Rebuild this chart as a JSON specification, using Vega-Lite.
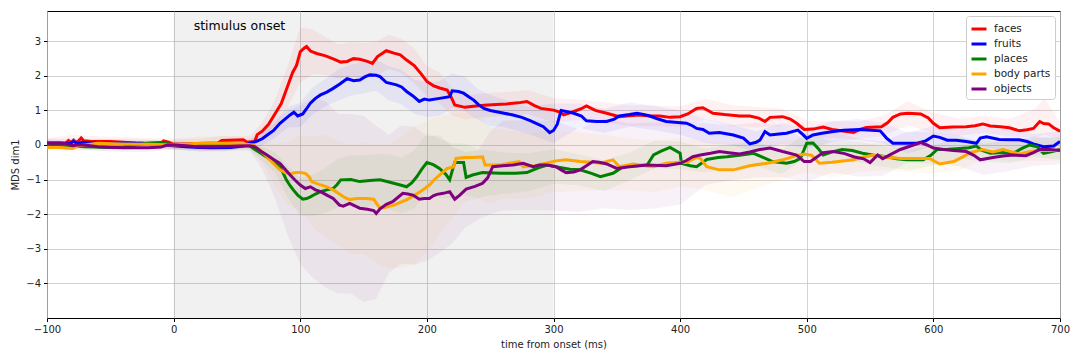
{
  "$schema": "https://vega.github.io/schema/vega-lite/v6.json",
  "width": 1013,
  "height": 307,
  "autosize": "none",
  "padding": {"left": 47, "top": 11, "right": 20, "bottom": 42},
  "datasets": {
    "lines": [
      {"s":"faces","t":-100,"v":0.05},{"s":"faces","t":-90,"v":0.05},{"s":"faces","t":-85,"v":0.06},{"s":"faces","t":-83,"v":0.13},{"s":"faces","t":-81,"v":0.07},{"s":"faces","t":-79,"v":0.14},{"s":"faces","t":-77,"v":0.07},{"s":"faces","t":-75,"v":0.12},{"s":"faces","t":-73,"v":0.2},{"s":"faces","t":-71,"v":0.12},{"s":"faces","t":-65,"v":0.1},{"s":"faces","t":-50,"v":0.1},{"s":"faces","t":-40,"v":0.08},{"s":"faces","t":-30,"v":0.06},{"s":"faces","t":-20,"v":0.05},{"s":"faces","t":-10,"v":0.05},{"s":"faces","t":-8,"v":0.12},{"s":"faces","t":-4,"v":0.08},{"s":"faces","t":0,"v":0.02},{"s":"faces","t":10,"v":0.03},{"s":"faces","t":20,"v":0.04},{"s":"faces","t":35,"v":0.06},{"s":"faces","t":38,"v":0.13},{"s":"faces","t":55,"v":0.15},{"s":"faces","t":58,"v":0.08},{"s":"faces","t":64,"v":0.1},{"s":"faces","t":66,"v":0.3},{"s":"faces","t":70,"v":0.4},{"s":"faces","t":75,"v":0.6},{"s":"faces","t":80,"v":0.9},{"s":"faces","t":85,"v":1.2},{"s":"faces","t":88,"v":1.5},{"s":"faces","t":91,"v":1.8},{"s":"faces","t":94,"v":2.1},{"s":"faces","t":97,"v":2.3},{"s":"faces","t":100,"v":2.7},{"s":"faces","t":103,"v":2.8},{"s":"faces","t":105,"v":2.85},{"s":"faces","t":108,"v":2.72},{"s":"faces","t":113,"v":2.65},{"s":"faces","t":120,"v":2.58},{"s":"faces","t":127,"v":2.48},{"s":"faces","t":132,"v":2.4},{"s":"faces","t":137,"v":2.42},{"s":"faces","t":142,"v":2.5},{"s":"faces","t":147,"v":2.48},{"s":"faces","t":153,"v":2.42},{"s":"faces","t":157,"v":2.36},{"s":"faces","t":161,"v":2.56},{"s":"faces","t":168,"v":2.73},{"s":"faces","t":174,"v":2.66},{"s":"faces","t":179,"v":2.61},{"s":"faces","t":184,"v":2.46},{"s":"faces","t":190,"v":2.3},{"s":"faces","t":195,"v":2.08},{"s":"faces","t":200,"v":1.84},{"s":"faces","t":205,"v":1.72},{"s":"faces","t":210,"v":1.65},{"s":"faces","t":216,"v":1.59},{"s":"faces","t":219,"v":1.4},{"s":"faces","t":222,"v":1.16},{"s":"faces","t":230,"v":1.09},{"s":"faces","t":237,"v":1.12},{"s":"faces","t":245,"v":1.15},{"s":"faces","t":255,"v":1.17},{"s":"faces","t":263,"v":1.19},{"s":"faces","t":272,"v":1.22},{"s":"faces","t":279,"v":1.26},{"s":"faces","t":285,"v":1.14},{"s":"faces","t":290,"v":1.06},{"s":"faces","t":300,"v":1.01},{"s":"faces","t":305,"v":0.95},{"s":"faces","t":308,"v":0.87},{"s":"faces","t":316,"v":0.97},{"s":"faces","t":322,"v":1.05},{"s":"faces","t":326,"v":1.13},{"s":"faces","t":333,"v":1.0},{"s":"faces","t":342,"v":0.92},{"s":"faces","t":352,"v":0.82},{"s":"faces","t":360,"v":0.85},{"s":"faces","t":368,"v":0.87},{"s":"faces","t":376,"v":0.84},{"s":"faces","t":384,"v":0.84},{"s":"faces","t":392,"v":0.8},{"s":"faces","t":400,"v":0.82},{"s":"faces","t":406,"v":0.9},{"s":"faces","t":413,"v":1.06},{"s":"faces","t":418,"v":1.08},{"s":"faces","t":422,"v":1.0},{"s":"faces","t":426,"v":0.92},{"s":"faces","t":435,"v":0.88},{"s":"faces","t":447,"v":0.84},{"s":"faces","t":455,"v":0.84},{"s":"faces","t":462,"v":0.78},{"s":"faces","t":467,"v":0.68},{"s":"faces","t":471,"v":0.8},{"s":"faces","t":481,"v":0.82},{"s":"faces","t":487,"v":0.75},{"s":"faces","t":492,"v":0.63},{"s":"faces","t":498,"v":0.45},{"s":"faces","t":505,"v":0.46},{"s":"faces","t":513,"v":0.52},{"s":"faces","t":520,"v":0.45},{"s":"faces","t":527,"v":0.41},{"s":"faces","t":537,"v":0.36},{"s":"faces","t":542,"v":0.45},{"s":"faces","t":547,"v":0.51},{"s":"faces","t":559,"v":0.53},{"s":"faces","t":564,"v":0.65},{"s":"faces","t":568,"v":0.8},{"s":"faces","t":574,"v":0.9},{"s":"faces","t":580,"v":0.92},{"s":"faces","t":590,"v":0.9},{"s":"faces","t":596,"v":0.78},{"s":"faces","t":600,"v":0.63},{"s":"faces","t":605,"v":0.5},{"s":"faces","t":615,"v":0.52},{"s":"faces","t":626,"v":0.53},{"s":"faces","t":633,"v":0.56},{"s":"faces","t":639,"v":0.61},{"s":"faces","t":645,"v":0.55},{"s":"faces","t":653,"v":0.53},{"s":"faces","t":660,"v":0.5},{"s":"faces","t":668,"v":0.41},{"s":"faces","t":674,"v":0.44},{"s":"faces","t":679,"v":0.48},{"s":"faces","t":684,"v":0.68},{"s":"faces","t":687,"v":0.62},{"s":"faces","t":691,"v":0.61},{"s":"faces","t":695,"v":0.5},{"s":"faces","t":700,"v":0.4},

      {"s":"fruits","t":-100,"v":0.06},{"s":"fruits","t":-90,"v":0.06},{"s":"fruits","t":-82,"v":0.04},{"s":"fruits","t":-79,"v":0.1},{"s":"fruits","t":-76,"v":0.04},{"s":"fruits","t":-72,"v":0.08},{"s":"fruits","t":-60,"v":0.05},{"s":"fruits","t":-40,"v":0.05},{"s":"fruits","t":-25,"v":0.05},{"s":"fruits","t":-10,"v":0.0},{"s":"fruits","t":0,"v":-0.02},{"s":"fruits","t":10,"v":-0.05},{"s":"fruits","t":20,"v":-0.07},{"s":"fruits","t":30,"v":-0.08},{"s":"fruits","t":45,"v":-0.07},{"s":"fruits","t":55,"v":-0.03},{"s":"fruits","t":60,"v":0.05},{"s":"fruits","t":65,"v":0.1},{"s":"fruits","t":70,"v":0.18},{"s":"fruits","t":74,"v":0.29},{"s":"fruits","t":79,"v":0.42},{"s":"fruits","t":84,"v":0.63},{"s":"fruits","t":88,"v":0.75},{"s":"fruits","t":92,"v":0.87},{"s":"fruits","t":95,"v":0.95},{"s":"fruits","t":98,"v":0.84},{"s":"fruits","t":102,"v":0.9},{"s":"fruits","t":105,"v":1.05},{"s":"fruits","t":108,"v":1.21},{"s":"fruits","t":112,"v":1.35},{"s":"fruits","t":116,"v":1.45},{"s":"fruits","t":121,"v":1.53},{"s":"fruits","t":126,"v":1.64},{"s":"fruits","t":131,"v":1.76},{"s":"fruits","t":137,"v":1.92},{"s":"fruits","t":142,"v":1.86},{"s":"fruits","t":147,"v":1.88},{"s":"fruits","t":151,"v":1.97},{"s":"fruits","t":155,"v":2.03},{"s":"fruits","t":160,"v":2.02},{"s":"fruits","t":163,"v":1.98},{"s":"fruits","t":168,"v":1.81},{"s":"fruits","t":176,"v":1.74},{"s":"fruits","t":180,"v":1.68},{"s":"fruits","t":184,"v":1.55},{"s":"fruits","t":189,"v":1.42},{"s":"fruits","t":194,"v":1.26},{"s":"fruits","t":198,"v":1.33},{"s":"fruits","t":202,"v":1.3},{"s":"fruits","t":210,"v":1.35},{"s":"fruits","t":218,"v":1.4},{"s":"fruits","t":220,"v":1.57},{"s":"fruits","t":225,"v":1.55},{"s":"fruits","t":229,"v":1.5},{"s":"fruits","t":233,"v":1.4},{"s":"fruits","t":237,"v":1.3},{"s":"fruits","t":241,"v":1.16},{"s":"fruits","t":245,"v":1.06},{"s":"fruits","t":250,"v":1.0},{"s":"fruits","t":258,"v":0.94},{"s":"fruits","t":268,"v":0.87},{"s":"fruits","t":275,"v":0.8},{"s":"fruits","t":282,"v":0.7},{"s":"fruits","t":288,"v":0.6},{"s":"fruits","t":292,"v":0.53},{"s":"fruits","t":297,"v":0.36},{"s":"fruits","t":300,"v":0.42},{"s":"fruits","t":303,"v":0.6},{"s":"fruits","t":306,"v":1.0},{"s":"fruits","t":310,"v":0.97},{"s":"fruits","t":316,"v":0.92},{"s":"fruits","t":322,"v":0.84},{"s":"fruits","t":326,"v":0.7},{"s":"fruits","t":334,"v":0.68},{"s":"fruits","t":342,"v":0.68},{"s":"fruits","t":348,"v":0.75},{"s":"fruits","t":352,"v":0.84},{"s":"fruits","t":360,"v":0.88},{"s":"fruits","t":366,"v":0.92},{"s":"fruits","t":372,"v":0.88},{"s":"fruits","t":376,"v":0.84},{"s":"fruits","t":382,"v":0.76},{"s":"fruits","t":389,"v":0.68},{"s":"fruits","t":396,"v":0.66},{"s":"fruits","t":405,"v":0.63},{"s":"fruits","t":410,"v":0.55},{"s":"fruits","t":413,"v":0.48},{"s":"fruits","t":418,"v":0.45},{"s":"fruits","t":423,"v":0.34},{"s":"fruits","t":431,"v":0.36},{"s":"fruits","t":442,"v":0.29},{"s":"fruits","t":450,"v":0.2},{"s":"fruits","t":455,"v":0.03},{"s":"fruits","t":460,"v":0.08},{"s":"fruits","t":463,"v":0.14},{"s":"fruits","t":467,"v":0.39},{"s":"fruits","t":471,"v":0.29},{"s":"fruits","t":478,"v":0.32},{"s":"fruits","t":484,"v":0.34},{"s":"fruits","t":493,"v":0.43},{"s":"fruits","t":497,"v":0.3},{"s":"fruits","t":500,"v":0.19},{"s":"fruits","t":505,"v":0.29},{"s":"fruits","t":512,"v":0.34},{"s":"fruits","t":521,"v":0.39},{"s":"fruits","t":529,"v":0.43},{"s":"fruits","t":542,"v":0.45},{"s":"fruits","t":558,"v":0.41},{"s":"fruits","t":563,"v":0.2},{"s":"fruits","t":568,"v":0.05},{"s":"fruits","t":578,"v":0.05},{"s":"fruits","t":587,"v":0.05},{"s":"fruits","t":594,"v":0.12},{"s":"fruits","t":600,"v":0.26},{"s":"fruits","t":605,"v":0.22},{"s":"fruits","t":611,"v":0.14},{"s":"fruits","t":618,"v":0.14},{"s":"fruits","t":626,"v":0.1},{"s":"fruits","t":634,"v":0.05},{"s":"fruits","t":637,"v":0.2},{"s":"fruits","t":642,"v":0.24},{"s":"fruits","t":652,"v":0.16},{"s":"fruits","t":660,"v":0.15},{"s":"fruits","t":668,"v":0.15},{"s":"fruits","t":674,"v":0.1},{"s":"fruits","t":679,"v":0.03},{"s":"fruits","t":687,"v":-0.05},{"s":"fruits","t":695,"v":-0.03},{"s":"fruits","t":700,"v":0.1},

      {"s":"places","t":-100,"v":0.02},{"s":"places","t":-90,"v":0.0},{"s":"places","t":-80,"v":-0.02},{"s":"places","t":-70,"v":-0.05},{"s":"places","t":-50,"v":-0.07},{"s":"places","t":-40,"v":-0.06},{"s":"places","t":-30,"v":0.0},{"s":"places","t":-20,"v":0.05},{"s":"places","t":-10,"v":0.07},{"s":"places","t":0,"v":0.0},{"s":"places","t":20,"v":0.0},{"s":"places","t":40,"v":0.0},{"s":"places","t":60,"v":-0.02},{"s":"places","t":63,"v":-0.1},{"s":"places","t":68,"v":-0.22},{"s":"places","t":73,"v":-0.34},{"s":"places","t":78,"v":-0.45},{"s":"places","t":84,"v":-0.63},{"s":"places","t":87,"v":-0.85},{"s":"places","t":89,"v":-1.01},{"s":"places","t":92,"v":-1.18},{"s":"places","t":94.5,"v":-1.3},{"s":"places","t":98,"v":-1.45},{"s":"places","t":102,"v":-1.57},{"s":"places","t":105,"v":-1.55},{"s":"places","t":108,"v":-1.5},{"s":"places","t":112,"v":-1.42},{"s":"places","t":116,"v":-1.35},{"s":"places","t":121,"v":-1.3},{"s":"places","t":126,"v":-1.26},{"s":"places","t":129,"v":-1.15},{"s":"places","t":132,"v":-1.01},{"s":"places","t":140,"v":-1.0},{"s":"places","t":147,"v":-1.06},{"s":"places","t":155,"v":-1.03},{"s":"places","t":163,"v":-1.01},{"s":"places","t":170,"v":-1.07},{"s":"places","t":179,"v":-1.16},{"s":"places","t":184,"v":-1.21},{"s":"places","t":188,"v":-1.1},{"s":"places","t":192,"v":-0.92},{"s":"places","t":196,"v":-0.7},{"s":"places","t":200,"v":-0.51},{"s":"places","t":205,"v":-0.57},{"s":"places","t":210,"v":-0.68},{"s":"places","t":215,"v":-0.85},{"s":"places","t":218,"v":-1.01},{"s":"places","t":220,"v":-0.75},{"s":"places","t":222,"v":-0.51},{"s":"places","t":229,"v":-0.51},{"s":"places","t":231,"v":-0.94},{"s":"places","t":236,"v":-0.87},{"s":"places","t":244,"v":-0.8},{"s":"places","t":258,"v":-0.82},{"s":"places","t":270,"v":-0.82},{"s":"places","t":279,"v":-0.8},{"s":"places","t":288,"v":-0.66},{"s":"places","t":295,"v":-0.58},{"s":"places","t":305,"v":-0.65},{"s":"places","t":313,"v":-0.7},{"s":"places","t":321,"v":-0.72},{"s":"places","t":330,"v":-0.82},{"s":"places","t":337,"v":-0.92},{"s":"places","t":347,"v":-0.82},{"s":"places","t":355,"v":-0.63},{"s":"places","t":365,"v":-0.6},{"s":"places","t":374,"v":-0.58},{"s":"places","t":379,"v":-0.29},{"s":"places","t":385,"v":-0.18},{"s":"places","t":392,"v":-0.07},{"s":"places","t":400,"v":-0.24},{"s":"places","t":401,"v":-0.53},{"s":"places","t":408,"v":-0.6},{"s":"places","t":413,"v":-0.63},{"s":"places","t":418,"v":-0.5},{"s":"places","t":421,"v":-0.42},{"s":"places","t":430,"v":-0.36},{"s":"places","t":437,"v":-0.34},{"s":"places","t":447,"v":-0.3},{"s":"places","t":458,"v":-0.24},{"s":"places","t":465,"v":-0.35},{"s":"places","t":473,"v":-0.48},{"s":"places","t":484,"v":-0.53},{"s":"places","t":490,"v":-0.48},{"s":"places","t":495,"v":-0.39},{"s":"places","t":500,"v":0.05},{"s":"places","t":505,"v":0.06},{"s":"places","t":509,"v":-0.1},{"s":"places","t":513,"v":-0.29},{"s":"places","t":520,"v":-0.2},{"s":"places","t":528,"v":-0.13},{"s":"places","t":536,"v":-0.16},{"s":"places","t":544,"v":-0.24},{"s":"places","t":553,"v":-0.3},{"s":"places","t":563,"v":-0.34},{"s":"places","t":571,"v":-0.4},{"s":"places","t":579,"v":-0.43},{"s":"places","t":592,"v":-0.43},{"s":"places","t":598,"v":-0.3},{"s":"places","t":603,"v":-0.13},{"s":"places","t":612,"v":-0.12},{"s":"places","t":621,"v":-0.1},{"s":"places","t":628,"v":-0.08},{"s":"places","t":634,"v":-0.03},{"s":"places","t":638,"v":-0.15},{"s":"places","t":645,"v":-0.24},{"s":"places","t":655,"v":-0.22},{"s":"places","t":663,"v":-0.24},{"s":"places","t":670,"v":-0.1},{"s":"places","t":676,"v":0.0},{"s":"places","t":682,"v":-0.05},{"s":"places","t":687,"v":-0.24},{"s":"places","t":693,"v":-0.2},{"s":"places","t":700,"v":-0.13},

      {"s":"body parts","t":-100,"v":-0.07},{"s":"body parts","t":-90,"v":-0.07},{"s":"body parts","t":-80,"v":-0.1},{"s":"body parts","t":-75,"v":-0.02},{"s":"body parts","t":-60,"v":0.05},{"s":"body parts","t":-40,"v":0.03},{"s":"body parts","t":-20,"v":0.02},{"s":"body parts","t":0,"v":0.0},{"s":"body parts","t":20,"v":0.05},{"s":"body parts","t":40,"v":0.05},{"s":"body parts","t":55,"v":0.03},{"s":"body parts","t":63,"v":0.0},{"s":"body parts","t":68,"v":-0.14},{"s":"body parts","t":72,"v":-0.28},{"s":"body parts","t":76,"v":-0.43},{"s":"body parts","t":80,"v":-0.58},{"s":"body parts","t":84,"v":-0.72},{"s":"body parts","t":88,"v":-0.8},{"s":"body parts","t":92,"v":-0.84},{"s":"body parts","t":96,"v":-0.8},{"s":"body parts","t":100,"v":-0.8},{"s":"body parts","t":104,"v":-0.82},{"s":"body parts","t":107,"v":-0.92},{"s":"body parts","t":109,"v":-1.06},{"s":"body parts","t":115,"v":-1.14},{"s":"body parts","t":121,"v":-1.21},{"s":"body parts","t":126,"v":-1.3},{"s":"body parts","t":131,"v":-1.42},{"s":"body parts","t":135,"v":-1.52},{"s":"body parts","t":139,"v":-1.58},{"s":"body parts","t":145,"v":-1.55},{"s":"body parts","t":152,"v":-1.55},{"s":"body parts","t":158,"v":-1.57},{"s":"body parts","t":163,"v":-1.84},{"s":"body parts","t":168,"v":-1.8},{"s":"body parts","t":174,"v":-1.74},{"s":"body parts","t":179,"v":-1.66},{"s":"body parts","t":184,"v":-1.59},{"s":"body parts","t":190,"v":-1.46},{"s":"body parts","t":195,"v":-1.35},{"s":"body parts","t":202,"v":-1.16},{"s":"body parts","t":206,"v":-1.0},{"s":"body parts","t":210,"v":-0.87},{"s":"body parts","t":216,"v":-0.68},{"s":"body parts","t":221,"v":-0.64},{"s":"body parts","t":223,"v":-0.39},{"s":"body parts","t":230,"v":-0.36},{"s":"body parts","t":237,"v":-0.36},{"s":"body parts","t":244,"v":-0.34},{"s":"body parts","t":246,"v":-0.58},{"s":"body parts","t":258,"v":-0.58},{"s":"body parts","t":266,"v":-0.52},{"s":"body parts","t":273,"v":-0.48},{"s":"body parts","t":276,"v":-0.63},{"s":"body parts","t":285,"v":-0.6},{"s":"body parts","t":294,"v":-0.53},{"s":"body parts","t":302,"v":-0.46},{"s":"body parts","t":310,"v":-0.43},{"s":"body parts","t":321,"v":-0.48},{"s":"body parts","t":330,"v":-0.5},{"s":"body parts","t":337,"v":-0.53},{"s":"body parts","t":347,"v":-0.43},{"s":"body parts","t":352,"v":-0.63},{"s":"body parts","t":363,"v":-0.55},{"s":"body parts","t":372,"v":-0.6},{"s":"body parts","t":379,"v":-0.63},{"s":"body parts","t":389,"v":-0.53},{"s":"body parts","t":400,"v":-0.5},{"s":"body parts","t":405,"v":-0.51},{"s":"body parts","t":413,"v":-0.36},{"s":"body parts","t":416,"v":-0.39},{"s":"body parts","t":421,"v":-0.63},{"s":"body parts","t":431,"v":-0.72},{"s":"body parts","t":442,"v":-0.72},{"s":"body parts","t":455,"v":-0.6},{"s":"body parts","t":470,"v":-0.52},{"s":"body parts","t":481,"v":-0.43},{"s":"body parts","t":490,"v":-0.33},{"s":"body parts","t":498,"v":-0.26},{"s":"body parts","t":504,"v":-0.3},{"s":"body parts","t":510,"v":-0.53},{"s":"body parts","t":520,"v":-0.5},{"s":"body parts","t":537,"v":-0.43},{"s":"body parts","t":545,"v":-0.35},{"s":"body parts","t":553,"v":-0.29},{"s":"body parts","t":562,"v":-0.35},{"s":"body parts","t":574,"v":-0.39},{"s":"body parts","t":597,"v":-0.39},{"s":"body parts","t":605,"v":-0.55},{"s":"body parts","t":616,"v":-0.48},{"s":"body parts","t":623,"v":-0.35},{"s":"body parts","t":629,"v":-0.22},{"s":"body parts","t":639,"v":-0.13},{"s":"body parts","t":647,"v":-0.2},{"s":"body parts","t":655,"v":-0.13},{"s":"body parts","t":662,"v":-0.2},{"s":"body parts","t":668,"v":-0.26},{"s":"body parts","t":675,"v":-0.2},{"s":"body parts","t":682,"v":-0.16},{"s":"body parts","t":700,"v":-0.16},

      {"s":"objects","t":-100,"v":0.05},{"s":"objects","t":-90,"v":0.05},{"s":"objects","t":-85,"v":0.04},{"s":"objects","t":-80,"v":-0.02},{"s":"objects","t":-76,"v":0.0},{"s":"objects","t":-70,"v":0.0},{"s":"objects","t":-60,"v":-0.05},{"s":"objects","t":-40,"v":-0.08},{"s":"objects","t":-20,"v":-0.08},{"s":"objects","t":-10,"v":-0.06},{"s":"objects","t":-5,"v":0.0},{"s":"objects","t":0,"v":0.0},{"s":"objects","t":10,"v":-0.02},{"s":"objects","t":20,"v":-0.06},{"s":"objects","t":35,"v":-0.05},{"s":"objects","t":50,"v":-0.03},{"s":"objects","t":60,"v":-0.02},{"s":"objects","t":64,"v":-0.05},{"s":"objects","t":69,"v":-0.18},{"s":"objects","t":74,"v":-0.3},{"s":"objects","t":79,"v":-0.42},{"s":"objects","t":84,"v":-0.53},{"s":"objects","t":88,"v":-0.7},{"s":"objects","t":92,"v":-0.87},{"s":"objects","t":96,"v":-1.02},{"s":"objects","t":100,"v":-1.16},{"s":"objects","t":104,"v":-1.26},{"s":"objects","t":108,"v":-1.21},{"s":"objects","t":112,"v":-1.3},{"s":"objects","t":116,"v":-1.35},{"s":"objects","t":121,"v":-1.45},{"s":"objects","t":126,"v":-1.55},{"s":"objects","t":131,"v":-1.74},{"s":"objects","t":134,"v":-1.77},{"s":"objects","t":139,"v":-1.69},{"s":"objects","t":144,"v":-1.78},{"s":"objects","t":147,"v":-1.83},{"s":"objects","t":153,"v":-1.86},{"s":"objects","t":158,"v":-1.9},{"s":"objects","t":160,"v":-1.98},{"s":"objects","t":163,"v":-1.85},{"s":"objects","t":168,"v":-1.72},{"s":"objects","t":173,"v":-1.64},{"s":"objects","t":177,"v":-1.52},{"s":"objects","t":181,"v":-1.4},{"s":"objects","t":185,"v":-1.42},{"s":"objects","t":189,"v":-1.45},{"s":"objects","t":194,"v":-1.57},{"s":"objects","t":198,"v":-1.55},{"s":"objects","t":202,"v":-1.55},{"s":"objects","t":205,"v":-1.47},{"s":"objects","t":208,"v":-1.43},{"s":"objects","t":213,"v":-1.4},{"s":"objects","t":218,"v":-1.35},{"s":"objects","t":222,"v":-1.57},{"s":"objects","t":226,"v":-1.45},{"s":"objects","t":231,"v":-1.28},{"s":"objects","t":238,"v":-1.2},{"s":"objects","t":244,"v":-1.11},{"s":"objects","t":248,"v":-0.95},{"s":"objects","t":252,"v":-0.63},{"s":"objects","t":260,"v":-0.6},{"s":"objects","t":268,"v":-0.58},{"s":"objects","t":276,"v":-0.53},{"s":"objects","t":284,"v":-0.63},{"s":"objects","t":289,"v":-0.58},{"s":"objects","t":295,"v":-0.58},{"s":"objects","t":302,"v":-0.63},{"s":"objects","t":306,"v":-0.72},{"s":"objects","t":310,"v":-0.8},{"s":"objects","t":316,"v":-0.78},{"s":"objects","t":321,"v":-0.72},{"s":"objects","t":326,"v":-0.6},{"s":"objects","t":331,"v":-0.48},{"s":"objects","t":336,"v":-0.5},{"s":"objects","t":342,"v":-0.55},{"s":"objects","t":350,"v":-0.68},{"s":"objects","t":360,"v":-0.63},{"s":"objects","t":374,"v":-0.58},{"s":"objects","t":389,"v":-0.6},{"s":"objects","t":400,"v":-0.53},{"s":"objects","t":405,"v":-0.45},{"s":"objects","t":410,"v":-0.34},{"s":"objects","t":416,"v":-0.29},{"s":"objects","t":424,"v":-0.24},{"s":"objects","t":431,"v":-0.19},{"s":"objects","t":440,"v":-0.23},{"s":"objects","t":447,"v":-0.26},{"s":"objects","t":455,"v":-0.2},{"s":"objects","t":463,"v":-0.13},{"s":"objects","t":471,"v":-0.09},{"s":"objects","t":481,"v":-0.19},{"s":"objects","t":492,"v":-0.29},{"s":"objects","t":498,"v":-0.48},{"s":"objects","t":503,"v":-0.48},{"s":"objects","t":508,"v":-0.35},{"s":"objects","t":513,"v":-0.22},{"s":"objects","t":521,"v":-0.19},{"s":"objects","t":530,"v":-0.25},{"s":"objects","t":537,"v":-0.34},{"s":"objects","t":545,"v":-0.4},{"s":"objects","t":550,"v":-0.51},{"s":"objects","t":556,"v":-0.29},{"s":"objects","t":560,"v":-0.4},{"s":"objects","t":566,"v":-0.28},{"s":"objects","t":574,"v":-0.13},{"s":"objects","t":582,"v":-0.03},{"s":"objects","t":590,"v":0.07},{"s":"objects","t":595,"v":0.0},{"s":"objects","t":600,"v":-0.09},{"s":"objects","t":608,"v":-0.13},{"s":"objects","t":616,"v":-0.16},{"s":"objects","t":626,"v":-0.19},{"s":"objects","t":632,"v":-0.3},{"s":"objects","t":637,"v":-0.43},{"s":"objects","t":647,"v":-0.36},{"s":"objects","t":655,"v":-0.32},{"s":"objects","t":663,"v":-0.29},{"s":"objects","t":673,"v":-0.31},{"s":"objects","t":679,"v":-0.22},{"s":"objects","t":684,"v":-0.13},{"s":"objects","t":692,"v":-0.13},{"s":"objects","t":700,"v":-0.16}
    ],
    "bands": [
      {"s":"faces","t":-100,"lo":-0.1,"hi":0.2},{"s":"faces","t":-80,"lo":-0.1,"hi":0.3},{"s":"faces","t":-60,"lo":-0.05,"hi":0.25},{"s":"faces","t":-40,"lo":-0.07,"hi":0.23},{"s":"faces","t":-20,"lo":-0.1,"hi":0.2},{"s":"faces","t":0,"lo":-0.12,"hi":0.18},{"s":"faces","t":20,"lo":-0.11,"hi":0.19},{"s":"faces","t":40,"lo":-0.03,"hi":0.27},{"s":"faces","t":60,"lo":-0.05,"hi":0.25},{"s":"faces","t":70,"lo":0.15,"hi":0.65},{"s":"faces","t":80,"lo":0.5,"hi":1.3},{"s":"faces","t":90,"lo":1.1,"hi":2.3},{"s":"faces","t":100,"lo":1.8,"hi":3.4},{"s":"faces","t":110,"lo":2.05,"hi":3.35},{"s":"faces","t":120,"lo":2.03,"hi":3.13},{"s":"faces","t":130,"lo":1.92,"hi":2.92},{"s":"faces","t":140,"lo":1.98,"hi":2.98},{"s":"faces","t":150,"lo":1.95,"hi":2.95},{"s":"faces","t":160,"lo":2.0,"hi":3.0},{"s":"faces","t":170,"lo":2.2,"hi":3.2},{"s":"faces","t":180,"lo":2.08,"hi":3.08},{"s":"faces","t":190,"lo":1.8,"hi":2.8},{"s":"faces","t":200,"lo":1.39,"hi":2.29},{"s":"faces","t":210,"lo":1.2,"hi":2.1},{"s":"faces","t":220,"lo":0.85,"hi":1.65},{"s":"faces","t":230,"lo":0.74,"hi":1.44},{"s":"faces","t":240,"lo":0.78,"hi":1.48},{"s":"faces","t":250,"lo":0.81,"hi":1.51},{"s":"faces","t":260,"lo":0.83,"hi":1.53},{"s":"faces","t":280,"lo":0.89,"hi":1.59},{"s":"faces","t":300,"lo":0.66,"hi":1.36},{"s":"faces","t":320,"lo":0.72,"hi":1.32},{"s":"faces","t":340,"lo":0.64,"hi":1.24},{"s":"faces","t":360,"lo":0.55,"hi":1.15},{"s":"faces","t":380,"lo":0.54,"hi":1.14},{"s":"faces","t":400,"lo":0.52,"hi":1.12},{"s":"faces","t":420,"lo":0.74,"hi":1.34},{"s":"faces","t":440,"lo":0.56,"hi":1.16},{"s":"faces","t":460,"lo":0.5,"hi":1.1},{"s":"faces","t":480,"lo":0.56,"hi":1.06},{"s":"faces","t":500,"lo":0.2,"hi":0.7},{"s":"faces","t":520,"lo":0.2,"hi":0.7},{"s":"faces","t":540,"lo":0.17,"hi":0.67},{"s":"faces","t":560,"lo":0.25,"hi":0.85},{"s":"faces","t":580,"lo":0.57,"hi":1.27},{"s":"faces","t":600,"lo":0.33,"hi":0.93},{"s":"faces","t":620,"lo":0.27,"hi":0.77},{"s":"faces","t":640,"lo":0.35,"hi":0.85},{"s":"faces","t":660,"lo":0.25,"hi":0.75},{"s":"faces","t":680,"lo":0.2,"hi":1.05},{"s":"faces","t":688,"lo":0.3,"hi":1.35},{"s":"faces","t":700,"lo":0.15,"hi":0.65},

      {"s":"fruits","t":-100,"lo":-0.06,"hi":0.18},{"s":"fruits","t":-80,"lo":-0.06,"hi":0.18},{"s":"fruits","t":-60,"lo":-0.07,"hi":0.17},{"s":"fruits","t":-40,"lo":-0.07,"hi":0.17},{"s":"fruits","t":-20,"lo":-0.09,"hi":0.15},{"s":"fruits","t":0,"lo":-0.14,"hi":0.1},{"s":"fruits","t":20,"lo":-0.19,"hi":0.05},{"s":"fruits","t":40,"lo":-0.19,"hi":0.05},{"s":"fruits","t":60,"lo":-0.07,"hi":0.17},{"s":"fruits","t":70,"lo":-0.02,"hi":0.38},{"s":"fruits","t":80,"lo":0.2,"hi":0.7},{"s":"fruits","t":90,"lo":0.5,"hi":1.1},{"s":"fruits","t":100,"lo":0.52,"hi":1.22},{"s":"fruits","t":110,"lo":0.88,"hi":1.68},{"s":"fruits","t":120,"lo":1.12,"hi":1.92},{"s":"fruits","t":130,"lo":1.29,"hi":2.19},{"s":"fruits","t":140,"lo":1.43,"hi":2.33},{"s":"fruits","t":150,"lo":1.5,"hi":2.4},{"s":"fruits","t":160,"lo":1.57,"hi":2.47},{"s":"fruits","t":170,"lo":1.29,"hi":2.29},{"s":"fruits","t":180,"lo":1.18,"hi":2.18},{"s":"fruits","t":190,"lo":0.9,"hi":1.9},{"s":"fruits","t":200,"lo":0.81,"hi":1.81},{"s":"fruits","t":210,"lo":0.85,"hi":1.85},{"s":"fruits","t":220,"lo":1.07,"hi":2.07},{"s":"fruits","t":230,"lo":0.98,"hi":1.98},{"s":"fruits","t":240,"lo":0.73,"hi":1.63},{"s":"fruits","t":250,"lo":0.55,"hi":1.45},{"s":"fruits","t":260,"lo":0.53,"hi":1.33},{"s":"fruits","t":280,"lo":0.32,"hi":1.12},{"s":"fruits","t":300,"lo":0.05,"hi":1.2},{"s":"fruits","t":320,"lo":0.5,"hi":1.2},{"s":"fruits","t":340,"lo":0.35,"hi":1.05},{"s":"fruits","t":360,"lo":0.53,"hi":1.23},{"s":"fruits","t":380,"lo":0.43,"hi":1.13},{"s":"fruits","t":400,"lo":0.3,"hi":1.0},{"s":"fruits","t":420,"lo":0.05,"hi":0.75},{"s":"fruits","t":440,"lo":0.0,"hi":0.6},{"s":"fruits","t":460,"lo":-0.2,"hi":0.4},{"s":"fruits","t":480,"lo":0.03,"hi":0.63},{"s":"fruits","t":500,"lo":-0.1,"hi":0.5},{"s":"fruits","t":520,"lo":0.08,"hi":0.68},{"s":"fruits","t":540,"lo":0.15,"hi":0.75},{"s":"fruits","t":560,"lo":0.05,"hi":0.65},{"s":"fruits","t":580,"lo":-0.25,"hi":0.35},{"s":"fruits","t":600,"lo":-0.04,"hi":0.56},{"s":"fruits","t":620,"lo":-0.17,"hi":0.43},{"s":"fruits","t":640,"lo":-0.08,"hi":0.52},{"s":"fruits","t":660,"lo":-0.15,"hi":0.45},{"s":"fruits","t":680,"lo":-0.28,"hi":0.32},{"s":"fruits","t":700,"lo":-0.2,"hi":0.4},

      {"s":"places","t":-100,"lo":-0.08,"hi":0.12},{"s":"places","t":-80,"lo":-0.12,"hi":0.08},{"s":"places","t":-60,"lo":-0.16,"hi":0.04},{"s":"places","t":-40,"lo":-0.16,"hi":0.04},{"s":"places","t":-20,"lo":-0.05,"hi":0.15},{"s":"places","t":0,"lo":-0.1,"hi":0.1},{"s":"places","t":20,"lo":-0.1,"hi":0.1},{"s":"places","t":40,"lo":-0.1,"hi":0.1},{"s":"places","t":60,"lo":-0.12,"hi":0.08},{"s":"places","t":70,"lo":-0.46,"hi":-0.06},{"s":"places","t":80,"lo":-0.8,"hi":-0.2},{"s":"places","t":90,"lo":-1.51,"hi":-0.61},{"s":"places","t":100,"lo":-2.05,"hi":-0.95},{"s":"places","t":110,"lo":-2.06,"hi":-0.86},{"s":"places","t":120,"lo":-1.96,"hi":-0.66},{"s":"places","t":130,"lo":-1.8,"hi":-0.4},{"s":"places","t":140,"lo":-1.7,"hi":-0.3},{"s":"places","t":150,"lo":-1.8,"hi":-0.3},{"s":"places","t":160,"lo":-1.77,"hi":-0.27},{"s":"places","t":170,"lo":-1.87,"hi":-0.27},{"s":"places","t":180,"lo":-1.97,"hi":-0.37},{"s":"places","t":190,"lo":-1.85,"hi":-0.15},{"s":"places","t":200,"lo":-1.36,"hi":0.34},{"s":"places","t":210,"lo":-1.53,"hi":0.17},{"s":"places","t":220,"lo":-1.55,"hi":0.05},{"s":"places","t":230,"lo":-1.45,"hi":0.05},{"s":"places","t":240,"lo":-1.54,"hi":-0.14},{"s":"places","t":250,"lo":-1.46,"hi":-0.16},{"s":"places","t":260,"lo":-1.42,"hi":-0.22},{"s":"places","t":280,"lo":-1.34,"hi":-0.24},{"s":"places","t":300,"lo":-1.12,"hi":-0.12},{"s":"places","t":320,"lo":-1.17,"hi":-0.27},{"s":"places","t":340,"lo":-1.34,"hi":-0.44},{"s":"places","t":360,"lo":-1.02,"hi":-0.22},{"s":"places","t":380,"lo":-0.67,"hi":0.13},{"s":"places","t":400,"lo":-0.7,"hi":0.1},{"s":"places","t":420,"lo":-0.8,"hi":-0.1},{"s":"places","t":440,"lo":-0.68,"hi":0.02},{"s":"places","t":460,"lo":-0.61,"hi":0.09},{"s":"places","t":480,"lo":-0.85,"hi":-0.15},{"s":"places","t":500,"lo":-0.35,"hi":0.35},{"s":"places","t":520,"lo":-0.5,"hi":0.1},{"s":"places","t":540,"lo":-0.5,"hi":0.1},{"s":"places","t":560,"lo":-0.63,"hi":-0.03},{"s":"places","t":580,"lo":-0.73,"hi":-0.13},{"s":"places","t":600,"lo":-0.6,"hi":0.0},{"s":"places","t":620,"lo":-0.4,"hi":0.2},{"s":"places","t":640,"lo":-0.48,"hi":0.12},{"s":"places","t":660,"lo":-0.53,"hi":0.07},{"s":"places","t":680,"lo":-0.35,"hi":0.25},{"s":"places","t":700,"lo":-0.43,"hi":0.17},

      {"s":"body parts","t":-100,"lo":-0.19,"hi":0.05},{"s":"body parts","t":-80,"lo":-0.22,"hi":0.02},{"s":"body parts","t":-60,"lo":-0.07,"hi":0.17},{"s":"body parts","t":-40,"lo":-0.09,"hi":0.15},{"s":"body parts","t":-20,"lo":-0.1,"hi":0.14},{"s":"body parts","t":0,"lo":-0.15,"hi":0.15},{"s":"body parts","t":20,"lo":-0.15,"hi":0.25},{"s":"body parts","t":40,"lo":-0.15,"hi":0.25},{"s":"body parts","t":60,"lo":-0.13,"hi":0.17},{"s":"body parts","t":70,"lo":-0.5,"hi":0.1},{"s":"body parts","t":80,"lo":-1.18,"hi":0.02},{"s":"body parts","t":90,"lo":-1.72,"hi":0.08},{"s":"body parts","t":100,"lo":-1.9,"hi":0.3},{"s":"body parts","t":110,"lo":-2.37,"hi":0.23},{"s":"body parts","t":120,"lo":-2.7,"hi":0.3},{"s":"body parts","t":130,"lo":-2.9,"hi":0.1},{"s":"body parts","t":140,"lo":-3.18,"hi":0.02},{"s":"body parts","t":150,"lo":-3.15,"hi":0.05},{"s":"body parts","t":160,"lo":-3.4,"hi":0.0},{"s":"body parts","t":170,"lo":-3.58,"hi":0.02},{"s":"body parts","t":180,"lo":-3.55,"hi":0.25},{"s":"body parts","t":190,"lo":-3.46,"hi":0.54},{"s":"body parts","t":200,"lo":-3.1,"hi":0.7},{"s":"body parts","t":210,"lo":-2.57,"hi":0.83},{"s":"body parts","t":220,"lo":-2.12,"hi":0.88},{"s":"body parts","t":230,"lo":-1.66,"hi":0.94},{"s":"body parts","t":240,"lo":-1.55,"hi":0.85},{"s":"body parts","t":250,"lo":-1.68,"hi":0.52},{"s":"body parts","t":260,"lo":-1.56,"hi":0.44},{"s":"body parts","t":280,"lo":-1.55,"hi":0.35},{"s":"body parts","t":300,"lo":-1.37,"hi":0.43},{"s":"body parts","t":320,"lo":-1.33,"hi":0.37},{"s":"body parts","t":340,"lo":-1.3,"hi":0.3},{"s":"body parts","t":360,"lo":-1.31,"hi":0.19},{"s":"body parts","t":380,"lo":-1.37,"hi":0.13},{"s":"body parts","t":400,"lo":-1.2,"hi":0.2},{"s":"body parts","t":420,"lo":-1.3,"hi":0.1},{"s":"body parts","t":440,"lo":-1.52,"hi":0.08},{"s":"body parts","t":460,"lo":-1.27,"hi":0.13},{"s":"body parts","t":480,"lo":-0.99,"hi":0.11},{"s":"body parts","t":500,"lo":-0.78,"hi":0.22},{"s":"body parts","t":520,"lo":-0.95,"hi":-0.05},{"s":"body parts","t":540,"lo":-0.8,"hi":0.0},{"s":"body parts","t":560,"lo":-0.73,"hi":0.07},{"s":"body parts","t":580,"lo":-0.79,"hi":0.01},{"s":"body parts","t":600,"lo":-0.82,"hi":-0.02},{"s":"body parts","t":620,"lo":-0.75,"hi":-0.05},{"s":"body parts","t":640,"lo":-0.43,"hi":0.17},{"s":"body parts","t":660,"lo":-0.48,"hi":0.12},{"s":"body parts","t":680,"lo":-0.47,"hi":0.13},{"s":"body parts","t":700,"lo":-0.46,"hi":0.14},

      {"s":"objects","t":-100,"lo":-0.07,"hi":0.17},{"s":"objects","t":-80,"lo":-0.14,"hi":0.1},{"s":"objects","t":-60,"lo":-0.17,"hi":0.07},{"s":"objects","t":-40,"lo":-0.2,"hi":0.04},{"s":"objects","t":-20,"lo":-0.2,"hi":0.04},{"s":"objects","t":0,"lo":-0.12,"hi":0.12},{"s":"objects","t":20,"lo":-0.18,"hi":0.06},{"s":"objects","t":40,"lo":-0.16,"hi":0.08},{"s":"objects","t":60,"lo":-0.17,"hi":0.13},{"s":"objects","t":70,"lo":-0.7,"hi":0.3},{"s":"objects","t":80,"lo":-1.55,"hi":0.65},{"s":"objects","t":90,"lo":-2.6,"hi":1.0},{"s":"objects","t":100,"lo":-3.46,"hi":1.14},{"s":"objects","t":110,"lo":-3.85,"hi":1.35},{"s":"objects","t":120,"lo":-4.13,"hi":1.27},{"s":"objects","t":130,"lo":-4.3,"hi":0.9},{"s":"objects","t":140,"lo":-4.3,"hi":0.9},{"s":"objects","t":150,"lo":-4.55,"hi":0.85},{"s":"objects","t":160,"lo":-4.45,"hi":0.55},{"s":"objects","t":170,"lo":-3.7,"hi":0.3},{"s":"objects","t":180,"lo":-3.43,"hi":0.57},{"s":"objects","t":190,"lo":-3.47,"hi":0.53},{"s":"objects","t":200,"lo":-3.35,"hi":0.25},{"s":"objects","t":210,"lo":-3.12,"hi":0.28},{"s":"objects","t":220,"lo":-2.85,"hi":-0.05},{"s":"objects","t":230,"lo":-2.4,"hi":-0.2},{"s":"objects","t":240,"lo":-2.17,"hi":-0.17},{"s":"objects","t":250,"lo":-2.0,"hi":0.4},{"s":"objects","t":260,"lo":-1.9,"hi":0.7},{"s":"objects","t":280,"lo":-1.88,"hi":0.72},{"s":"objects","t":300,"lo":-1.9,"hi":0.7},{"s":"objects","t":320,"lo":-1.94,"hi":0.46},{"s":"objects","t":340,"lo":-1.83,"hi":0.77},{"s":"objects","t":360,"lo":-1.88,"hi":0.62},{"s":"objects","t":380,"lo":-1.84,"hi":0.66},{"s":"objects","t":400,"lo":-1.73,"hi":0.67},{"s":"objects","t":420,"lo":-1.16,"hi":0.64},{"s":"objects","t":440,"lo":-1.03,"hi":0.57},{"s":"objects","t":460,"lo":-0.95,"hi":0.65},{"s":"objects","t":480,"lo":-0.93,"hi":0.57},{"s":"objects","t":500,"lo":-1.08,"hi":0.12},{"s":"objects","t":520,"lo":-0.79,"hi":0.41},{"s":"objects","t":540,"lo":-0.91,"hi":0.19},{"s":"objects","t":560,"lo":-0.9,"hi":0.1},{"s":"objects","t":580,"lo":-0.5,"hi":0.4},{"s":"objects","t":600,"lo":-0.54,"hi":0.36},{"s":"objects","t":620,"lo":-0.62,"hi":0.28},{"s":"objects","t":640,"lo":-0.87,"hi":0.03},{"s":"objects","t":660,"lo":-0.75,"hi":0.15},{"s":"objects","t":680,"lo":-0.6,"hi":0.2},{"s":"objects","t":700,"lo":-0.56,"hi":0.24}
    ],
    "span": [{"a": 0, "b": 300}],
    "note": [{"t": 52, "v": 3.45, "label": "stimulus onset"}]
  },
  "layer": [
    {
      "data": {"name": "span"},
      "mark": {"type": "rect", "fill": "#000000", "opacity": 0.055},
      "encoding": {
        "x": {"field": "a", "type": "quantitative",
              "scale": {"domain": [-100, 700], "nice": false, "zero": false},
              "axis": {"values": [-100, 0, 100, 200, 300, 400, 500, 600, 700], "title": "time from onset (ms)", "format": "d", "labelFlush": false}},
        "x2": {"field": "b"}
      }
    },
    {
      "data": {"name": "bands"},
      "transform": [{"filter": {"field": "s", "equal": "faces"}}],
      "mark": {"type": "area", "opacity": 0.055, "fill": "#ff0000", "clip": true},
      "encoding": {
        "x": {"field": "t", "type": "quantitative"},
        "y": {"field": "lo", "type": "quantitative",
              "scale": {"domain": [-5.01, 3.88], "nice": false, "zero": false},
              "axis": {"values": [-4, -3, -2, -1, 0, 1, 2, 3], "title": "MDS dim1", "format": "d", "labelFlush": false}},
        "y2": {"field": "hi"}
      }
    },
    {
      "data": {"name": "bands"},
      "transform": [{"filter": {"field": "s", "equal": "fruits"}}],
      "mark": {"type": "area", "opacity": 0.055, "fill": "#0000ff", "clip": true},
      "encoding": {
        "x": {"field": "t", "type": "quantitative"},
        "y": {"field": "lo", "type": "quantitative"},
        "y2": {"field": "hi"}
      }
    },
    {
      "data": {"name": "bands"},
      "transform": [{"filter": {"field": "s", "equal": "places"}}],
      "mark": {"type": "area", "opacity": 0.055, "fill": "#008000", "clip": true},
      "encoding": {
        "x": {"field": "t", "type": "quantitative"},
        "y": {"field": "lo", "type": "quantitative"},
        "y2": {"field": "hi"}
      }
    },
    {
      "data": {"name": "bands"},
      "transform": [{"filter": {"field": "s", "equal": "body parts"}}],
      "mark": {"type": "area", "opacity": 0.055, "fill": "#ffa500", "clip": true},
      "encoding": {
        "x": {"field": "t", "type": "quantitative"},
        "y": {"field": "lo", "type": "quantitative"},
        "y2": {"field": "hi"}
      }
    },
    {
      "data": {"name": "bands"},
      "transform": [{"filter": {"field": "s", "equal": "objects"}}],
      "mark": {"type": "area", "opacity": 0.055, "fill": "#800080", "clip": true},
      "encoding": {
        "x": {"field": "t", "type": "quantitative"},
        "y": {"field": "lo", "type": "quantitative"},
        "y2": {"field": "hi"}
      }
    },
    {
      "data": {"name": "note"},
      "mark": {"type": "text", "fontSize": 12.5, "font": "DejaVu Sans", "fill": "#000000", "align": "center", "baseline": "middle"},
      "encoding": {
        "x": {"field": "t", "type": "quantitative"},
        "y": {"field": "v", "type": "quantitative"},
        "text": {"field": "label"}
      }
    },
    {
      "data": {"name": "lines"},
      "mark": {"type": "line", "strokeWidth": 3, "clip": true},
      "encoding": {
        "x": {"field": "t", "type": "quantitative"},
        "y": {"field": "v", "type": "quantitative"},
        "color": {"field": "s", "type": "nominal",
                  "scale": {"domain": ["faces", "fruits", "places", "body parts", "objects"],
                            "range": ["#ff0000", "#0000ff", "#008000", "#ffa500", "#800080"]},
                  "legend": {"title": null, "orient": "top-right"}}
      }
    }
  ],
  "config": {
    "font": "DejaVu Sans",
    "view": {"stroke": "#000000", "strokeWidth": 1},
    "axis": {
      "domain": false,
      "grid": true,
      "gridColor": "#c8c8c8",
      "gridWidth": 0.8,
      "tickColor": "#000000",
      "tickSize": 3.5,
      "labelFont": "DejaVu Sans",
      "labelFontSize": 10,
      "labelColor": "#222222",
      "labelPadding": 3,
      "titleFont": "DejaVu Sans",
      "titleFontSize": 10,
      "titleFontWeight": "normal",
      "titleColor": "#222222",
      "titlePadding": 5
    },
    "legend": {
      "symbolType": "stroke",
      "symbolStrokeWidth": 3,
      "symbolSize": 225,
      "labelFont": "DejaVu Sans",
      "labelFontSize": 10.5,
      "labelColor": "#222222",
      "labelOffset": 6,
      "fillColor": "#ffffff",
      "strokeColor": "#cccccc",
      "cornerRadius": 3,
      "padding": 4,
      "offset": 5,
      "rowPadding": 0
    }
  }
}
